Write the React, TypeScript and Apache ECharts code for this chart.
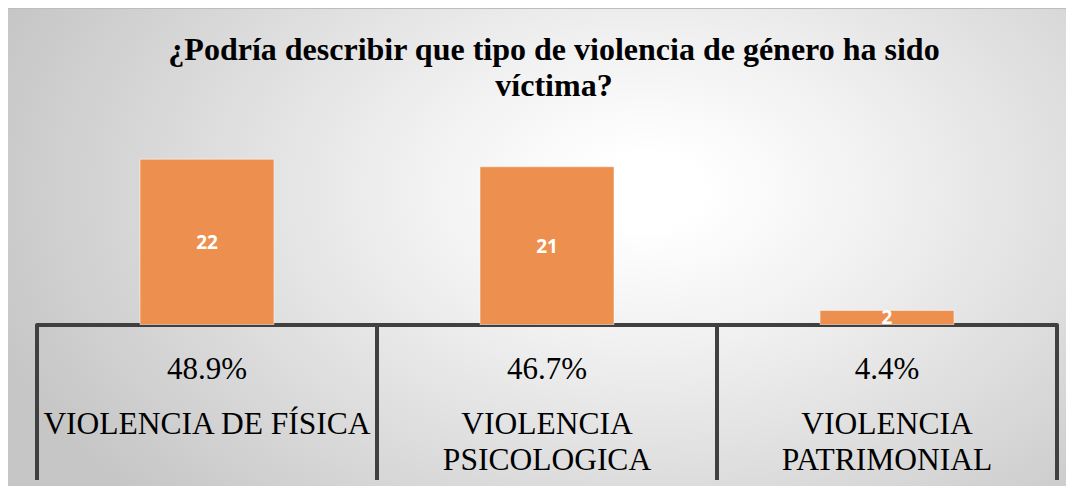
import React, { useEffect, useRef } from "react";
import * as echarts from "echarts";

const titleText = "¿Podría describir que tipo de violencia de género ha sido\nvíctima?";
const categories = ["VIOLENCIA DE FÍSICA", "VIOLENCIA\nPSICOLOGICA", "VIOLENCIA\nPATRIMONIAL"];
const counts = [22, 21, 2];
const percentages = ["48.9%", "46.7%", "4.4%"];

const SERIF = "'Liberation Serif', 'Times New Roman', serif";

export default function App() {
  const ref = useRef<HTMLDivElement>(null);
  useEffect(() => {
    if (!ref.current) return;
    const chart = echarts.init(ref.current, undefined, { renderer: "svg" });
    chart.setOption({
      animation: false,
      title: {
        text: titleText,
        left: 541,
        top: 17,
        textAlign: "center",
        textStyle: {
          fontFamily: SERIF,
          fontWeight: "bold",
          fontSize: 32,
          lineHeight: 36,
          color: "#000",
        },
      },
      grid: { left: 29, right: 17, top: 127, bottom: 161, containLabel: false },
      xAxis: {
        type: "category",
        data: categories,
        axisLine: { show: true, lineStyle: { color: "#404040", width: 4 } },
        axisTick: { show: true, length: 155, interval: 0, lineStyle: { color: "#404040", width: 4 } },
        axisLabel: {
          interval: 0,
          margin: 6,
          color: "#000",
          fontFamily: SERIF,
          fontSize: 32,
          formatter: (value: string, idx: number) => {
            const lines = value.split("\n").map((l) => `{n|${l}}`).join("\n");
            return `{p|${percentages[idx]}}\n${lines}`;
          },
          rich: {
            p: { fontFamily: SERIF, fontSize: 31, lineHeight: 74, color: "#000" },
            n: { fontFamily: SERIF, fontSize: 31.5, lineHeight: 36, color: "#000" },
          },
        },
      },
      yAxis: { type: "value", min: 0, max: 25, show: false, splitLine: { show: false } },
      series: [
        {
          type: "bar",
          data: counts,
          barWidth: "39.7%",
          itemStyle: { color: "#ED8F4F", borderColor: "rgba(255,255,255,0.5)", borderWidth: 1 },
          label: {
            show: true,
            position: "inside",
            color: "#fff",
            fontFamily: "Open Sans",
            fontWeight: "bold",
            fontSize: 19,
          },
        },
      ],
    });
    return () => chart.dispose();
  }, []);
  return (
    <div
      ref={ref}
      style={{
        width: 1066,
        height: 478,
        background:
          "radial-gradient(ellipse 65% 95% at 60% 38%, #ffffff 8%, #f0f0f0 35%, #c6c6c6 100%)",
        borderTop: "1px solid #bdbdbd",
        boxSizing: "border-box",
      }}
    />
  );
}
